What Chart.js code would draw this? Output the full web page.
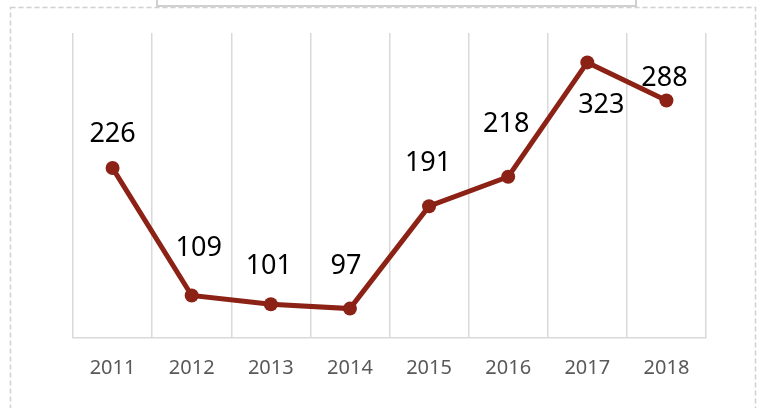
<!DOCTYPE html>
<html>
<head>
<meta charset="utf-8">
<script src="https://cdn.jsdelivr.net/npm/chart.js@4/dist/chart.umd.min.js"></script>
<style>
html,body{margin:0;padding:0;background:#fff;}
#wrap{width:763px;height:408px;position:relative;}
</style>
</head>
<body>
<div id="wrap"><canvas id="c" width="763" height="408"></canvas></div>
<script>
const categories = ['2011','2012','2013','2014','2015','2016','2017','2018'];
const values = [226, 109, 101, 97, 191, 218, 323, 288];
// label offsets (px) relative to each point, as placed in the reference
const labelDx = [0, 7, -2, -4, -1, -2, 14, -2];
const labelDy = [-34, -47, -38, -42, -43, -52, 43, -22];

const frame = {
  id: 'frame',
  beforeDraw(chart) {
    const ctx = chart.ctx;
    ctx.save();
    ctx.fillStyle = '#fff';
    ctx.fillRect(0, 0, chart.width, chart.height);
    ctx.strokeStyle = '#d0d0d0';
    ctx.lineWidth = 1.5;
    ctx.setLineDash([5, 3]);
    ctx.strokeRect(10.5, 7.5, 745, 420);
    ctx.setLineDash([]);
    ctx.fillStyle = '#fff';
    ctx.fillRect(157, 0, 480, 6);
    ctx.lineWidth = 2;
    ctx.strokeStyle = '#d0d0d0';
    ctx.strokeRect(157, -5, 479, 11);
    ctx.restore();
  }
};

const labels = {
  id: 'valueLabels',
  afterDatasetsDraw(chart) {
    const ctx = chart.ctx;
    const meta = chart.getDatasetMeta(0);
    ctx.save();
    ctx.font = '27px "Noto Sans", "Open Sans", sans-serif';
    ctx.fillStyle = '#000';
    ctx.textAlign = 'center';
    ctx.textBaseline = 'middle';
    meta.data.forEach((pt, i) => {
      ctx.fillText(String(values[i]), pt.x + labelDx[i], pt.y + labelDy[i]);
    });
    ctx.restore();
  }
};

new Chart(document.getElementById('c'), {
  type: 'line',
  data: {
    labels: categories,
    datasets: [{
      data: values,
      borderColor: '#8b2215',
      backgroundColor: '#8b2215',
      borderWidth: 5,
      pointRadius: 7,
      pointHoverRadius: 7,
      pointBackgroundColor: '#8b2215',
      pointBorderWidth: 0,
      tension: 0,
      fill: false
    }]
  },
  options: {
    responsive: false,
    animation: false,
    devicePixelRatio: 1,
    layout: { padding: { left: 73, right: 57, top: 33, bottom: 10 } },
    plugins: { legend: { display: false }, tooltip: { enabled: false } },
    scales: {
      x: {
        offset: true,
        grid: { offset: true, color: '#d9d9d9', lineWidth: 1.5, drawTicks: false },
        border: { color: '#d9d9d9', width: 1.5 },
        ticks: { color: '#595959', padding: 18, font: { family: '"Noto Sans", "Open Sans", sans-serif', size: 20 } }
      },
      y: {
        display: false,
        min: 70,
        max: 350
      }
    }
  },
  plugins: [frame, labels]
});
</script>
</body>
</html>
